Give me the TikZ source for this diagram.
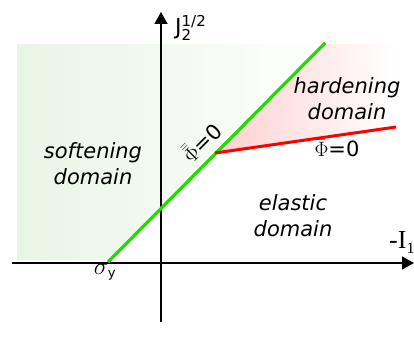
\documentclass[tikz,border=0pt]{standalone}
\usepackage{fontspec}
\setmainfont{DejaVu Sans}
\newfontfamily\tnr{Liberation Serif}
\usetikzlibrary{arrows.meta}
\definecolor{lgreen}{RGB}{232,245,229}
\definecolor{lpink}{RGB}{255,208,208}
\definecolor{bgreen}{RGB}{30,220,0}
\tikzset{
  axisline/.style={line width=1.4pt,-{Triangle[length=12pt,width=13pt]}},
  domlbl/.style={font=\itshape\fontsize{21}{26}\selectfont,align=center,inner sep=0pt},
  phlbl/.style={font=\fontsize{21}{24}\selectfont,inner sep=0pt},
}
\begin{document}
\begin{tikzpicture}[x=1pt,y=-1pt]
\useasboundingbox (0,0) rectangle (414,352);
\clip (0,0) rectangle (414,352);
% shaded regions
\shade[left color=lgreen,right color=white!97!lgreen] (17,44) -- (325,44) -- (108,260) -- (17,260) -- cycle;
\shade[left color=lpink,right color=white] (215,153) -- (325,44) -- (396,44) -- (396,127) -- cycle;
% axes
\coordinate (xl) at (12,263);
\coordinate (xr) at (414,263);
\coordinate (yb) at (161,322);
\coordinate (yt) at (161,12);
\draw[axisline] (xl) -- (xr);
\draw[axisline] (yb) -- (yt);
% yield lines
\coordinate (g0) at (108,262);
\coordinate (g1) at (325,43);
\coordinate (r0) at (215,153);
\coordinate (r1) at (396,127);
\draw[bgreen,line width=3.2pt] (g0) -- (g1);
\draw[red,line width=3pt] (r0) -- (r1);
% labels
\node[domlbl] (soft) at (93,164) {softening\\domain};
\node[domlbl] (hard) at (347,99) {hardening\\domain};
\node[domlbl] (elas) at (293,216) {elastic\\domain};
\node[phlbl,anchor=base] (phir) at (337,157) {$\bar{\Phi}$=0};
\node[phlbl,rotate=45] (phil) at (201,142) {$\bar{\bar{\Phi}}$=0};
\node[anchor=base west,inner sep=0pt,font=\fontsize{22}{24}\selectfont] (jlab) at (175,35)
  {J$_{\mbox{\fontsize{15}{15}\selectfont 2}}^{\mbox{\fontsize{15}{15}\selectfont 1/2}}$};
\node[inner sep=0pt,font=\fontsize{24}{26}\selectfont] (sig) at (105,272)
  {$\sigma_{\mbox{\fontsize{13}{13}\selectfont y}}$};
\node[anchor=base west,inner sep=0pt,font=\tnr\fontsize{26}{28}\selectfont] (ilab) at (389,248)
  {-I\raisebox{-5pt}{\fontsize{16}{16}\selectfont 1}};
\end{tikzpicture}
\end{document}
